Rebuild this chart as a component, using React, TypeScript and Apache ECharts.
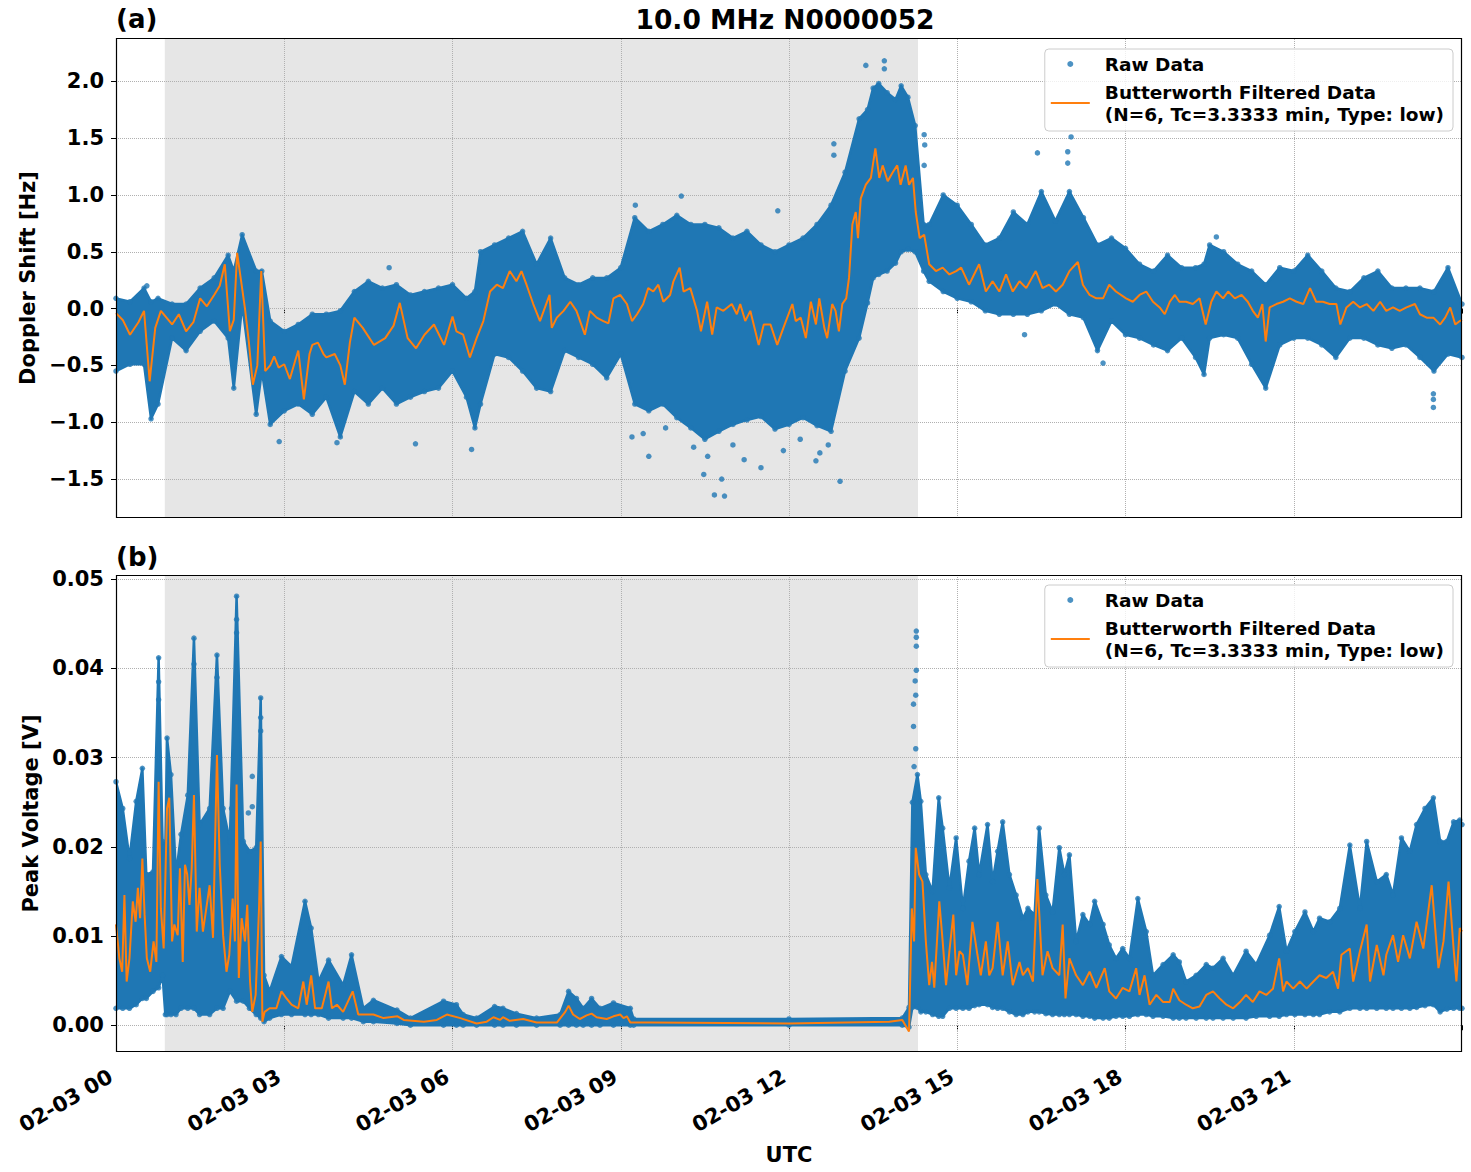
import React, { useEffect, useRef } from "react";
import * as echarts from "echarts";

// ---------- DATA (hours since 02-03 00 UTC) ----------
const TITLE = "10.0 MHz N0000052";
const RAW_NAME = "Raw Data";
const FILT_NAME = "Butterworth Filtered Data\n(N=6, Tc=3.3333 min, Type: low)";
const xTicks = [0, 3, 6, 9, 12, 15, 18, 21];
const topYTicks = [-1.5, -1.0, -0.5, 0.0, 0.5, 1.0, 1.5, 2.0];
const botYTicks = [0.0, 0.01, 0.02, 0.03, 0.04, 0.05];
const shadeSpan = [0.87, 14.3];

// Doppler shift, Butterworth filtered [h, Hz]
const dopplerFiltered: number[][] = [
  [0, -0.04], [0.12, -0.1], [0.25, -0.23], [0.4, -0.12], [0.5, -0.02], [0.6, -0.64], [0.7, -0.17], [0.8, -0.02],
  [0.9, -0.08], [1.0, -0.14], [1.12, -0.05], [1.25, -0.2], [1.38, -0.12], [1.5, 0.09], [1.62, 0.02], [1.75, 0.12],
  [1.85, 0.2], [1.94, 0.39], [2.03, -0.2], [2.1, -0.1], [2.16, 0.49], [2.3, 0.0], [2.37, -0.3], [2.44, -0.67],
  [2.52, -0.5], [2.59, 0.33], [2.66, -0.55], [2.75, -0.5], [2.82, -0.42], [2.9, -0.52], [3.0, -0.49], [3.1, -0.62],
  [3.2, -0.45], [3.25, -0.37], [3.35, -0.8], [3.45, -0.4], [3.5, -0.32], [3.6, -0.3], [3.7, -0.4], [3.75, -0.43],
  [3.9, -0.4], [4.0, -0.5], [4.08, -0.67], [4.17, -0.3], [4.25, -0.08], [4.4, -0.17], [4.6, -0.32], [4.8, -0.26],
  [4.95, -0.15], [5.06, 0.05], [5.2, -0.26], [5.35, -0.35], [5.5, -0.23], [5.67, -0.14], [5.85, -0.32], [6.0, -0.07],
  [6.07, -0.2], [6.19, -0.23], [6.31, -0.43], [6.43, -0.26], [6.55, -0.11], [6.67, 0.15], [6.79, 0.21], [6.9, 0.18],
  [7.02, 0.33], [7.14, 0.24], [7.23, 0.33], [7.32, 0.21], [7.44, 0.04], [7.56, -0.11], [7.73, 0.12], [7.77, -0.17],
  [7.86, -0.08], [7.98, -0.02], [8.1, 0.06], [8.21, -0.02], [8.36, -0.23], [8.45, -0.02], [8.57, -0.08], [8.69, -0.11],
  [8.78, -0.13], [8.87, 0.09], [8.99, 0.12], [9.11, 0.04], [9.2, -0.11], [9.29, -0.05], [9.4, 0.04], [9.49, 0.18],
  [9.58, 0.15], [9.67, 0.21], [9.76, 0.06], [9.88, 0.12], [9.94, 0.24], [10.05, 0.36], [10.12, 0.15], [10.24, 0.18],
  [10.36, -0.02], [10.43, -0.2], [10.54, 0.06], [10.63, -0.23], [10.71, 0.01], [10.83, -0.02], [10.98, 0.04], [11.07, -0.05],
  [11.13, 0.04], [11.22, -0.11], [11.31, -0.02], [11.46, -0.32], [11.55, -0.14], [11.67, -0.14], [11.79, -0.32], [11.9, -0.17],
  [12.06, 0.04], [12.12, -0.11], [12.21, -0.08], [12.3, -0.26], [12.39, 0.06], [12.48, -0.14], [12.54, 0.09], [12.63, -0.17],
  [12.68, -0.26], [12.77, 0.04], [12.83, -0.02], [12.89, -0.2], [12.95, 0.04], [13.02, 0.09], [13.07, 0.27], [13.13, 0.74],
  [13.19, 0.85], [13.23, 0.62], [13.28, 0.97], [13.37, 1.09], [13.46, 1.15], [13.54, 1.41], [13.61, 1.15], [13.67, 1.26],
  [13.76, 1.12], [13.85, 1.2], [13.93, 1.26], [13.99, 1.09], [14.08, 1.26], [14.14, 1.09], [14.21, 1.15], [14.26, 0.85],
  [14.33, 0.62], [14.41, 0.65], [14.5, 0.39], [14.62, 0.33], [14.74, 0.36], [14.86, 0.3], [14.98, 0.33], [15.07, 0.36],
  [15.21, 0.21], [15.39, 0.39], [15.51, 0.15], [15.63, 0.24], [15.75, 0.15], [15.87, 0.3], [15.99, 0.15], [16.11, 0.24],
  [16.23, 0.18], [16.4, 0.33], [16.52, 0.18], [16.64, 0.21], [16.76, 0.15], [16.88, 0.21], [17.0, 0.33], [17.15, 0.41],
  [17.24, 0.21], [17.36, 0.12], [17.48, 0.09], [17.6, 0.09], [17.71, 0.21], [17.83, 0.15], [18.01, 0.09], [18.13, 0.06],
  [18.25, 0.12], [18.37, 0.15], [18.49, 0.06], [18.61, 0.01], [18.7, -0.05], [18.79, 0.06], [18.88, 0.12], [18.96, 0.06],
  [19.08, 0.06], [19.2, 0.04], [19.32, 0.09], [19.43, -0.14], [19.53, 0.06], [19.62, 0.15], [19.74, 0.09], [19.83, 0.15],
  [19.95, 0.09], [20.07, 0.12], [20.18, 0.06], [20.27, -0.02], [20.36, -0.08], [20.44, 0.04], [20.5, -0.29], [20.57, 0.01],
  [20.69, 0.04], [20.81, 0.06], [20.93, 0.09], [21.05, 0.06], [21.17, 0.04], [21.29, 0.18], [21.4, 0.06], [21.52, 0.06],
  [21.64, 0.04], [21.76, 0.04], [21.83, -0.14], [21.94, 0.01], [22.06, 0.06], [22.18, 0.01], [22.3, 0.04], [22.42, -0.02],
  [22.54, 0.06], [22.65, -0.02], [22.77, 0.01], [22.89, -0.02], [23.01, 0.01], [23.16, 0.04], [23.25, -0.05], [23.37, -0.08],
  [23.49, -0.08], [23.61, -0.14], [23.7, -0.08], [23.79, 0.01], [23.88, -0.14], [23.96, -0.11], [24.0, -0.1],
];

// Doppler raw data spread [h, low, high]
const dopplerBand: number[][] = [
  [0, -0.55, 0.09], [0.25, -0.49, 0.06], [0.5, -0.49, 0.18], [0.625, -0.97, 0.06], [0.75, -0.84, 0.09], [1.0, -0.26, 0.04],
  [1.25, -0.37, 0.04], [1.5, -0.2, 0.18], [1.75, -0.11, 0.27], [2.0, -0.26, 0.47], [2.1, -0.7, 0.33], [2.25, 0.04, 0.65],
  [2.5, -0.93, 0.33], [2.6, -0.55, 0.33], [2.75, -1.02, -0.11], [3.0, -0.9, -0.2], [3.25, -0.84, -0.14], [3.5, -0.93, -0.05],
  [3.75, -0.78, -0.05], [4.0, -1.13, -0.02], [4.25, -0.73, 0.15], [4.5, -0.84, 0.24], [4.75, -0.7, 0.18], [5.0, -0.84, 0.21],
  [5.25, -0.78, 0.12], [5.5, -0.73, 0.15], [5.75, -0.7, 0.18], [6.0, -0.55, 0.21], [6.25, -0.78, 0.09], [6.4, -1.05, 0.15],
  [6.5, -0.84, 0.5], [6.75, -0.4, 0.56], [7.0, -0.43, 0.62], [7.25, -0.55, 0.68], [7.5, -0.7, 0.39], [7.75, -0.73, 0.62],
  [8.0, -0.37, 0.27], [8.25, -0.43, 0.21], [8.5, -0.49, 0.27], [8.75, -0.61, 0.27], [9.0, -0.4, 0.36], [9.25, -0.84, 0.8],
  [9.5, -0.9, 0.68], [9.75, -0.84, 0.74], [10.0, -0.96, 0.82], [10.25, -1.05, 0.74], [10.5, -1.15, 0.74], [10.75, -1.08, 0.71],
  [11.0, -1.02, 0.62], [11.25, -0.98, 0.68], [11.5, -0.95, 0.56], [11.75, -1.06, 0.5], [12.0, -1.02, 0.56], [12.25, -0.96, 0.62],
  [12.5, -1.03, 0.74], [12.75, -1.08, 0.91], [13.0, -0.55, 1.2], [13.25, -0.26, 1.67], [13.4, 0.05, 1.75], [13.5, 0.27, 1.94],
  [13.6, 0.3, 1.98], [13.75, 0.33, 1.9], [13.9, 0.4, 1.84], [14.0, 0.5, 1.96], [14.12, 0.52, 1.86], [14.25, 0.5, 1.61],
  [14.4, 0.33, 0.74], [14.5, 0.24, 0.74], [14.75, 0.15, 1.0], [15.0, 0.09, 0.91],
  [15.25, 0.06, 0.74], [15.5, -0.02, 0.56], [15.75, -0.05, 0.62], [16.0, -0.05, 0.85], [16.25, -0.05, 0.74], [16.5, -0.02, 1.03],
  [16.75, 0.04, 0.77], [17.0, -0.05, 1.03], [17.25, -0.08, 0.8], [17.5, -0.37, 0.56], [17.75, -0.11, 0.62], [18.0, -0.23, 0.53],
  [18.25, -0.26, 0.39], [18.5, -0.32, 0.33], [18.75, -0.37, 0.47], [19.0, -0.26, 0.36], [19.25, -0.43, 0.36], [19.4, -0.58, 0.39],
  [19.5, -0.26, 0.56], [19.75, -0.23, 0.5], [20.0, -0.26, 0.39], [20.25, -0.49, 0.33], [20.5, -0.7, 0.21], [20.75, -0.32, 0.36],
  [21.0, -0.26, 0.33], [21.25, -0.26, 0.47], [21.5, -0.32, 0.33], [21.75, -0.43, 0.18], [22.0, -0.26, 0.15], [22.25, -0.26, 0.27],
  [22.5, -0.32, 0.33], [22.75, -0.35, 0.18], [23.0, -0.32, 0.18], [23.25, -0.43, 0.18], [23.5, -0.55, 0.15], [23.75, -0.4, 0.36],
  [24.0, -0.43, 0.04],
];

// Doppler isolated raw points [h, Hz]
const dopplerOutliers: number[][] = [
  [13.37, 2.14], [13.7, 2.18], [13.7, 2.11], [12.8, 1.45], [12.8, 1.35], [10.67, -1.64], [10.85, -1.65], [10.48, -1.46],
  [9.2, -1.13], [6.34, -1.24], [12.91, -1.52], [12.48, -1.34], [10.08, 0.99], [17.03, 1.51], [16.43, 1.37], [14.41, 1.53],
  [14.41, 1.26], [16.2, -0.23], [17.6, -0.48], [23.49, -0.87], [19.62, 0.63], [0.55, 0.2], [2.91, -1.17], [3.94, -1.18],
  [5.34, -1.19], [4.87, 0.36], [9.26, 0.91], [11.8, 0.86], [10.8, -1.5], [11.2, -1.33], [12.55, -1.27], [9.5, -1.3],
  [11.5, -1.4], [16.97, 1.38], [16.97, 1.28], [14.42, 1.44], [23.49, -0.75], [23.49, -0.8],
  [10.3, -1.22], [10.55, -1.3], [11.0, -1.2], [11.9, -1.25], [12.2, -1.15], [12.7, -1.2], [9.4, -1.1], [9.8, -1.05],
];

// Peak voltage, Butterworth filtered [h, V]
const voltageFiltered: number[][] = [
  [0, 0.0113], [0.06, 0.0075], [0.11, 0.006], [0.15, 0.0146], [0.19, 0.0049], [0.24, 0.0075], [0.3, 0.0139], [0.35, 0.0116],
  [0.39, 0.0154], [0.43, 0.012], [0.47, 0.0187], [0.51, 0.0124], [0.55, 0.0075], [0.61, 0.006], [0.67, 0.0094], [0.72, 0.0071],
  [0.76, 0.0273], [0.8, 0.0131], [0.85, 0.0086], [0.91, 0.0243], [0.95, 0.0255], [1.0, 0.0094], [1.04, 0.0113], [1.1, 0.0101],
  [1.14, 0.0176], [1.19, 0.0071], [1.23, 0.018], [1.27, 0.0169], [1.31, 0.0135], [1.35, 0.0176], [1.39, 0.0258], [1.44, 0.0105],
  [1.49, 0.0154], [1.55, 0.0105], [1.61, 0.0131], [1.67, 0.0157], [1.73, 0.0098], [1.8, 0.0303], [1.85, 0.018], [1.91, 0.0101],
  [1.97, 0.006], [2.02, 0.0079], [2.08, 0.0142], [2.12, 0.0094], [2.15, 0.027], [2.19, 0.0053], [2.24, 0.012], [2.3, 0.0094],
  [2.34, 0.0135], [2.39, 0.0049], [2.43, 0.0015], [2.49, 0.0034], [2.55, 0.0131], [2.58, 0.0206], [2.61, 0.0004], [2.65, 0.0015],
  [2.74, 0.0019], [2.86, 0.0019], [2.95, 0.0038], [3.04, 0.003], [3.13, 0.0023], [3.25, 0.0019], [3.34, 0.0049], [3.4, 0.0023],
  [3.48, 0.0056], [3.55, 0.0019], [3.67, 0.0019], [3.79, 0.0049], [3.85, 0.0019], [3.94, 0.0023], [4.05, 0.0015], [4.22, 0.0038],
  [4.32, 0.0012], [4.59, 0.0012], [4.77, 0.0008], [5.02, 0.001], [5.13, 0.0006], [5.49, 0.0004], [5.72, 0.0006], [5.9, 0.0012],
  [6.14, 0.0008], [6.43, 0.0002], [6.61, 0.0004], [6.73, 0.0009], [6.85, 0.0006], [6.9, 0.0009], [7.02, 0.0005], [7.26, 0.0007],
  [7.5, 0.0003], [7.86, 0.0003], [8.01, 0.0015], [8.07, 0.0022], [8.15, 0.0012], [8.27, 0.0007], [8.39, 0.0011], [8.48, 0.0013],
  [8.57, 0.0009], [8.75, 0.0007], [8.87, 0.001], [8.99, 0.0012], [9.05, 0.0008], [9.11, 0.001], [9.17, 0.0003], [9.52, 0.0003],
  [12.0, 0.0002], [13.79, 0.0004], [14.02, 0.0006], [14.14, -0.0007], [14.19, 0.0131], [14.23, 0.0094], [14.26, 0.0199], [14.32, 0.0169],
  [14.38, 0.0161], [14.44, 0.0094], [14.5, 0.0045], [14.55, 0.0071], [14.59, 0.0042], [14.68, 0.0139], [14.74, 0.0094], [14.8, 0.0045],
  [14.86, 0.0083], [14.93, 0.0124], [14.98, 0.0056], [15.04, 0.0083], [15.1, 0.0079], [15.18, 0.0045], [15.27, 0.0116], [15.36, 0.0079],
  [15.42, 0.0056], [15.51, 0.0094], [15.57, 0.0056], [15.63, 0.0064], [15.72, 0.0116], [15.81, 0.0056], [15.9, 0.0094], [15.99, 0.0045],
  [16.11, 0.0071], [16.17, 0.0056], [16.26, 0.0064], [16.35, 0.0049], [16.43, 0.0164], [16.52, 0.0056], [16.61, 0.0083], [16.7, 0.0064],
  [16.82, 0.0056], [16.88, 0.0113], [16.93, 0.003], [17.0, 0.0075], [17.12, 0.0056], [17.24, 0.0045], [17.36, 0.006], [17.48, 0.0042],
  [17.63, 0.0064], [17.71, 0.0038], [17.83, 0.003], [17.95, 0.0042], [18.07, 0.0038], [18.19, 0.0064], [18.25, 0.0034], [18.34, 0.0056],
  [18.43, 0.0023], [18.55, 0.0034], [18.67, 0.0026], [18.79, 0.0026], [18.85, 0.0041], [18.96, 0.0028], [19.08, 0.0023], [19.2, 0.0019],
  [19.32, 0.0021], [19.44, 0.0034], [19.56, 0.0038], [19.68, 0.003], [19.8, 0.0023], [19.92, 0.0019], [20.04, 0.0026], [20.15, 0.0034],
  [20.27, 0.0026], [20.39, 0.0038], [20.51, 0.0034], [20.63, 0.0041], [20.74, 0.0075], [20.81, 0.0038], [20.87, 0.0049], [20.99, 0.0041],
  [21.11, 0.0049], [21.23, 0.0041], [21.35, 0.0049], [21.46, 0.0056], [21.58, 0.0053], [21.7, 0.006], [21.79, 0.0041], [21.85, 0.0079],
  [22.0, 0.0086], [22.06, 0.0049], [22.18, 0.0083], [22.3, 0.0113], [22.36, 0.0049], [22.48, 0.009], [22.6, 0.0056], [22.65, 0.0079],
  [22.77, 0.0101], [22.86, 0.0071], [22.95, 0.0101], [23.07, 0.0075], [23.19, 0.0116], [23.31, 0.0086], [23.46, 0.0157], [23.58, 0.0064],
  [23.67, 0.0094], [23.76, 0.0161], [23.85, 0.0086], [23.9, 0.0049], [23.96, 0.0109], [24.0, 0.0105],
];

// Peak voltage raw data spread [h, low, high]
const voltageBand: number[][] = [
  [0, 0.0019, 0.0273], [0.12, 0.0019, 0.0243], [0.24, 0.0019, 0.0187], [0.36, 0.0023, 0.0251], [0.47, 0.003, 0.0288],
  [0.54, 0.003, 0.0169], [0.66, 0.0038, 0.0172], [0.76, 0.0042, 0.0412], [0.83, 0.0056, 0.0206], [0.88, 0.0012, 0.02],
  [0.91, 0.0012, 0.0322], [0.98, 0.0012, 0.0281], [1.07, 0.0012, 0.0169], [1.16, 0.0019, 0.0214], [1.28, 0.0019, 0.0258],
  [1.39, 0.0019, 0.0434], [1.49, 0.0012, 0.0225], [1.67, 0.0012, 0.0243], [1.8, 0.0019, 0.0415], [1.91, 0.0019, 0.0243],
  [2.03, 0.0038, 0.0206], [2.15, 0.0027, 0.0481], [2.27, 0.0027, 0.0206], [2.38, 0.0019, 0.0195], [2.5, 0.0012, 0.0199],
  [2.58, 0.0008, 0.0367], [2.64, 0.0004, 0.0056], [2.74, 0.0008, 0.0038], [2.95, 0.0012, 0.0077], [3.13, 0.0012, 0.0066],
  [3.37, 0.0012, 0.0139], [3.48, 0.0012, 0.0109], [3.61, 0.0012, 0.0049], [3.79, 0.0008, 0.0073], [4.05, 0.0008, 0.0045],
  [4.2, 0.0008, 0.0079], [4.41, 0.0004, 0.0019], [4.59, 0.0004, 0.0028], [5.01, 0.0002, 0.0017], [5.25, 0.0, 0.0008],
  [5.84, 0.0, 0.0027], [6.07, 0.0, 0.0023], [6.19, 0.0, 0.0012], [6.43, 0.0, 0.0008], [6.75, 0.0, 0.0021], [6.9, 0.0, 0.0019],
  [7.14, 0.0, 0.0013], [7.5, 0.0, 0.0008], [7.92, 0.0, 0.0012], [8.07, 0.0, 0.0038], [8.21, 0.0, 0.003], [8.33, 0.0, 0.0019],
  [8.48, 0.0, 0.003], [8.63, 0.0, 0.0019], [8.87, 0.0, 0.0025], [9.17, 0.0, 0.0019], [9.23, 0.0, 0.0007], [12.0, 0.0, 0.0007],
  [14.02, 0.0, 0.0008], [14.14, -0.0002, 0.002], [14.2, 0.002, 0.025], [14.29, 0.002, 0.0281], [14.35, 0.0015, 0.0251],
  [14.44, 0.0015, 0.0169], [14.56, 0.0012, 0.015], [14.67, 0.001, 0.0255], [14.74, 0.001, 0.0221], [14.86, 0.0019, 0.0154],
  [14.98, 0.0019, 0.021], [15.1, 0.0019, 0.0131], [15.21, 0.0019, 0.0184], [15.31, 0.0022, 0.0221], [15.39, 0.0023, 0.0169],
  [15.54, 0.0023, 0.0225], [15.63, 0.002, 0.0161], [15.72, 0.0019, 0.0195], [15.81, 0.0019, 0.0228], [15.93, 0.0015, 0.0169],
  [16.05, 0.0012, 0.0146], [16.17, 0.0012, 0.012], [16.26, 0.0015, 0.0131], [16.38, 0.0015, 0.0124], [16.46, 0.0015, 0.0221],
  [16.58, 0.0013, 0.0146], [16.7, 0.0012, 0.0127], [16.82, 0.0012, 0.0199], [16.91, 0.0012, 0.0169], [17.0, 0.0012, 0.0191],
  [17.12, 0.0012, 0.0094], [17.24, 0.001, 0.0124], [17.36, 0.001, 0.0113], [17.45, 0.0008, 0.0139], [17.6, 0.0008, 0.0113],
  [17.71, 0.0008, 0.009], [17.83, 0.001, 0.0075], [17.95, 0.001, 0.0086], [18.07, 0.001, 0.0075], [18.22, 0.0012, 0.0142],
  [18.37, 0.0012, 0.0105], [18.49, 0.001, 0.0056], [18.67, 0.001, 0.0068], [18.85, 0.0008, 0.0079], [18.96, 0.0008, 0.0071],
  [19.08, 0.0008, 0.0049], [19.26, 0.0008, 0.0056], [19.44, 0.0008, 0.0068], [19.56, 0.0008, 0.0064], [19.74, 0.0008, 0.0075],
  [19.92, 0.0008, 0.0056], [20.15, 0.0008, 0.0083], [20.33, 0.001, 0.0068], [20.57, 0.001, 0.0101], [20.74, 0.001, 0.0133],
  [20.87, 0.0012, 0.0083], [21.02, 0.0012, 0.0105], [21.2, 0.0012, 0.0127], [21.35, 0.0012, 0.0105], [21.46, 0.0012, 0.012],
  [21.64, 0.0015, 0.0116], [21.82, 0.0015, 0.0131], [22.0, 0.0019, 0.0202], [22.18, 0.0019, 0.0131], [22.3, 0.0019, 0.0206],
  [22.48, 0.0019, 0.0161], [22.65, 0.0019, 0.0169], [22.77, 0.0019, 0.0146], [22.92, 0.0019, 0.021], [23.07, 0.0019, 0.0195],
  [23.19, 0.002, 0.0225], [23.34, 0.0022, 0.0243], [23.49, 0.0023, 0.0255], [23.61, 0.0015, 0.0206], [23.73, 0.0018, 0.0206],
  [23.85, 0.0019, 0.0228], [23.96, 0.0019, 0.023], [24.0, 0.0019, 0.0225],
];

// Peak voltage isolated raw points [h, V]
const voltageOutliers: number[][] = [
  [14.27, 0.0442], [14.27, 0.0435], [14.27, 0.0425], [14.27, 0.0398], [14.25, 0.0386], [14.26, 0.037], [14.22, 0.036],
  [14.22, 0.0335], [14.26, 0.031], [14.23, 0.029], [0.76, 0.0385], [0.76, 0.0365], [1.39, 0.0405], [2.15, 0.0455],
  [2.15, 0.044], [1.8, 0.039], [2.58, 0.0345], [2.58, 0.033], [2.43, 0.0279], [2.43, 0.0245], [2.06, 0.0243], [2.36, 0.0238],
];

// ---------- STYLE ----------
const BLUE = "#1f77b4";
const ORANGE = "#ff7f0e";
const FONT = "DejaVu Sans";
const GRID_COLOR = "#b0b0b0";
const W = 1471;
const H = 1172;

const GRIDS = [
  { left: 116, top: 38, width: 1346, height: 480 },
  { left: 116, top: 575, width: 1346, height: 477 },
];

function bandRenderer(band: number[][]) {
  return (params: any, api: any) => {
    if (params.dataIndex !== 0) return null;
    const upper = band.map((d) => api.coord([d[0], d[2]]));
    const lower = band
      .slice()
      .reverse()
      .map((d) => api.coord([d[0], d[1]]));
    return {
      type: "polygon",
      shape: { points: upper.concat(lower) },
      style: { fill: BLUE, stroke: BLUE, lineWidth: 2.5, lineJoin: "round" },
    };
  };
}

function panelSeries(i: number, band: number[][], outliers: number[][], filtered: number[][], yTicks: number[]) {
  const edgePts: number[][] = [];
  band.forEach((d) => {
    edgePts.push([d[0], d[1]]);
    edgePts.push([d[0], d[2]]);
  });
  return [
    {
      type: "custom",
      name: "band" + i,
      xAxisIndex: i,
      yAxisIndex: i,
      data: band,
      encode: { x: 0, y: [1, 2] },
      renderItem: bandRenderer(band),
      clip: true,
      silent: true,
      z: 3,
    },
    {
      type: "scatter",
      name: RAW_NAME,
      xAxisIndex: i,
      yAxisIndex: i,
      data: outliers.concat(edgePts),
      symbol: "circle",
      symbolSize: 5.5,
      itemStyle: { color: BLUE },
      silent: true,
      clip: true,
      z: 4,
    },
    {
      type: "line",
      name: FILT_NAME,
      xAxisIndex: i,
      yAxisIndex: i,
      data: filtered,
      symbol: "none",
      lineStyle: { color: ORANGE, width: 2 },
      itemStyle: { color: ORANGE },
      silent: true,
      clip: true,
      z: 5,
      markArea: {
        silent: true,
        z: 1,
        itemStyle: { color: "rgba(128,128,128,0.2)" },
        label: { show: false },
        data: [[{ xAxis: shadeSpan[0] }, { xAxis: shadeSpan[1] }]],
      },
      markLine: {
        silent: true,
        z: 2,
        symbol: ["none", "none"],
        label: { show: false },
        lineStyle: { color: GRID_COLOR, type: "dotted", width: 1 },
        data: [
          ...xTicks.filter((t) => t > 0).map((t) => ({ xAxis: t })),
          ...yTicks.map((t) => ({ yAxis: t })),
        ],
      },
    },
  ];
}

const fmtHour = (v: number) => (v >= 24 ? "" : "02-03 " + String(Math.round(v)).padStart(2, "0"));
const fmtTop = (v: number) => (v < 0 ? "\u2212" : "") + Math.abs(v).toFixed(1);
const fmtBot = (v: number) => v.toFixed(2);

export default function App() {
  const ref = useRef<HTMLDivElement>(null);
  useEffect(() => {
    if (!ref.current) return;
    const chart = echarts.init(ref.current, undefined, { renderer: "svg" });
    const labelStyle = { color: "#000", fontFamily: FONT, fontWeight: "bold", fontSize: 21 };
    const nameStyle = { color: "#000", fontFamily: FONT, fontWeight: "bold", fontSize: 21 };
    const xAxisBase = (i: number) => ({
      type: "value",
      gridIndex: i,
      min: 0,
      max: 24,
      interval: 3,
      axisLine: { show: false },
      axisTick: { show: true, length: 5, lineStyle: { color: "#000", width: 1 } },
      splitLine: { show: false },
    });
    const legendBase = (top: number) => ({
      show: true,
      orient: "vertical",
      right: 18,
      top,
      z: 10,
      padding: [4, 9, 6, 6],
      itemGap: 6,
      itemWidth: 39,
      itemHeight: 6,
      backgroundColor: "rgba(255,255,255,0.8)",
      borderColor: "#cccccc",
      borderWidth: 1,
      borderRadius: 4,
      selectedMode: false,
      textStyle: {
        color: "#000",
        fontFamily: FONT,
        fontWeight: "bold",
        fontSize: 18.5,
        lineHeight: 22,
        padding: [0, 0, 0, 10],
      },
      data: [
        { name: RAW_NAME, icon: "circle", itemStyle: { color: BLUE } },
        { name: FILT_NAME, icon: "path://M0,0 L39,0 L39,2.2 L0,2.2 Z", itemStyle: { color: ORANGE } },
      ],
    });
    chart.setOption({
      animation: false,
      backgroundColor: "#fff",
      title: [
        {
          text: TITLE,
          left: 785,
          top: 6,
          textAlign: "center",
          padding: 0,
          textStyle: { color: "#000", fontFamily: FONT, fontWeight: "bold", fontSize: 26.5 },
        },
        {
          text: "(a)",
          left: 116,
          top: 6,
          padding: 0,
          textStyle: { color: "#000", fontFamily: FONT, fontWeight: "bold", fontSize: 26 },
        },
        {
          text: "(b)",
          left: 116,
          top: 544,
          padding: 0,
          textStyle: { color: "#000", fontFamily: FONT, fontWeight: "bold", fontSize: 26 },
        },
      ],
      legend: [legendBase(49), legendBase(585)],
      grid: GRIDS.map((g) => ({ ...g, show: false, containLabel: false })),
      xAxis: [
        { ...xAxisBase(0), axisLabel: { show: false } },
        {
          ...xAxisBase(1),
          name: "UTC",
          nameLocation: "middle",
          nameGap: 92,
          nameTextStyle: nameStyle,
          axisLabel: { ...labelStyle, rotate: 30, margin: 20, padding: [0, 6, 0, 0], formatter: fmtHour },
        },
      ],
      yAxis: [
        {
          type: "value",
          gridIndex: 0,
          min: -1.843,
          max: 2.381,
          name: "Doppler Shift [Hz]",
          nameLocation: "middle",
          nameGap: 72,
          nameTextStyle: nameStyle,
          axisLine: { show: false },
          splitLine: { show: false },
          axisTick: { show: true, length: 5, customValues: topYTicks, lineStyle: { color: "#000", width: 1 } },
          axisLabel: { ...labelStyle, margin: 12, customValues: topYTicks, formatter: fmtTop },
        },
        {
          type: "value",
          gridIndex: 1,
          min: -0.003,
          max: 0.05048,
          name: "Peak Voltage [V]",
          nameLocation: "middle",
          nameGap: 72,
          nameTextStyle: nameStyle,
          axisLine: { show: false },
          splitLine: { show: false },
          axisTick: { show: true, length: 5, customValues: botYTicks, lineStyle: { color: "#000", width: 1 } },
          axisLabel: { ...labelStyle, margin: 12, customValues: botYTicks, formatter: fmtBot },
        },
      ],
      graphic: GRIDS.map((g) => ({
        type: "rect",
        silent: true,
        z: 100,
        shape: { x: g.left + 0.5, y: g.top + 0.5, width: g.width - 1, height: g.height - 1 },
        style: { fill: "none", stroke: "#000", lineWidth: 1.2 },
      })),
      series: [
        ...panelSeries(0, dopplerBand, dopplerOutliers, dopplerFiltered, topYTicks),
        ...panelSeries(1, voltageBand, voltageOutliers, voltageFiltered, botYTicks),
      ],
    });
    return () => chart.dispose();
  }, []);
  return <div ref={ref} style={{ position: "absolute", left: 0, top: 0, width: W, height: H }} />;
}
